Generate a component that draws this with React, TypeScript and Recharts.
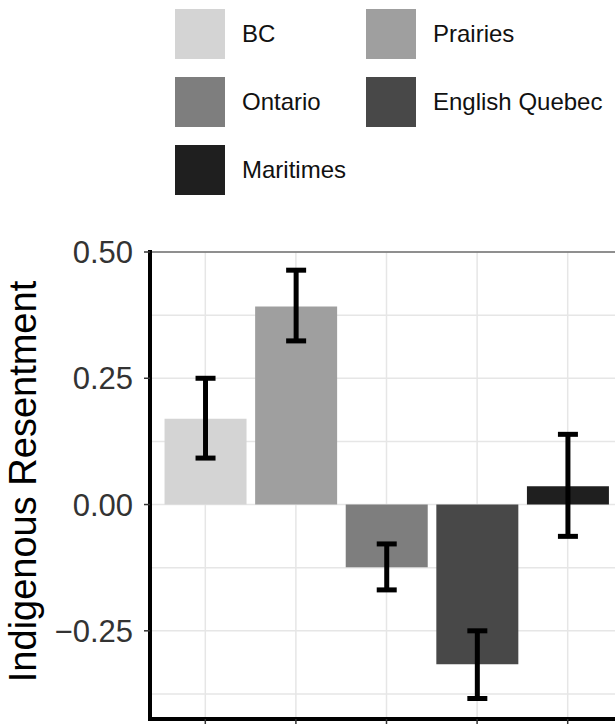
import React from 'react'
import {
  BarChart,
  Bar,
  Cell,
  XAxis,
  YAxis,
  CartesianGrid,
  ErrorBar,
  ReferenceLine,
} from 'recharts'

// region means with 95% interval ends
const regions = ['BC', 'Prairies', 'Ontario', 'English Quebec', 'Maritimes']
const means = [0.17, 0.392, -0.124, -0.316, 0.036]
const lower = [0.092, 0.324, -0.169, -0.384, -0.063]
const upper = [0.25, 0.464, -0.078, -0.25, 0.139]
const fills = ['#d4d4d4', '#9f9f9f', '#7e7e7e', '#484848', '#1f1f1f']

const yTicks = [-0.25, 0, 0.25, 0.5]
const gridValues = [-0.375, -0.25, -0.125, 0, 0.125, 0.25, 0.375, 0.5]

const FONT = '"Liberation Sans", Arial, Helvetica, sans-serif'
const PLOT_TOP = 252
const PLOT_BOTTOM = 719

const data = regions.map((region, i) => ({
  region,
  value: means[i],
  err: [means[i] - lower[i], upper[i] - means[i]],
}))

const formatTick = (v: number) => (v < 0 ? '\u2212' + Math.abs(v).toFixed(2) : v.toFixed(2))

function YTitle() {
  const cx = 36
  const cy = (PLOT_TOP + PLOT_BOTTOM) / 2 - 4
  return (
    <text
      x={cx}
      y={cy}
      transform={`rotate(-90, ${cx}, ${cy})`}
      textAnchor="middle"
      fontSize={38}
      fontFamily={FONT}
      fill="#000"
    >
      Indigenous Resentment
    </text>
  )
}

function RegionLegend() {
  return (
    <div
      style={{
        position: 'absolute',
        left: 175,
        top: 9,
        display: 'grid',
        gridTemplateColumns: '191px 191px',
        rowGap: 18,
        fontFamily: FONT,
        fontSize: 24,
        color: '#111',
      }}
    >
      {regions.map((r, i) => (
        <div key={r} style={{ display: 'flex', alignItems: 'center', height: 50 }}>
          <div style={{ width: 50, height: 50, background: fills[i], flex: 'none' }} />
          <span style={{ marginLeft: 17, whiteSpace: 'nowrap' }}>{r}</span>
        </div>
      ))}
    </div>
  )
}

export default function App() {
  return (
    <div
      style={{
        position: 'absolute',
        left: 0,
        top: 0,
        width: 615,
        height: 724,
        overflow: 'hidden',
        background: '#fff',
      }}
    >
      <RegionLegend />
      <BarChart
        width={623}
        height={760}
        data={data}
        margin={{ top: PLOT_TOP, right: 0, bottom: 0, left: 0 }}
        barCategoryGap="5%"
      >
        <CartesianGrid
          stroke="#e6e6e6"
          strokeWidth={1.5}
          horizontalValues={gridValues}
          verticalValues={regions}
        />
        <XAxis
          dataKey="region"
          height={760 - PLOT_BOTTOM}
          padding={{ left: 10, right: 10 }}
          tick={<g />}
          tickSize={6}
          tickLine={{ stroke: '#333', strokeWidth: 1.5 }}
          axisLine={{ stroke: '#000', strokeWidth: 4, strokeLinecap: 'square' }}
        />
        <YAxis
          width={150}
          type="number"
          domain={[-0.4246, 0.5]}
          allowDataOverflow
          ticks={yTicks}
          tickFormatter={formatTick}
          tickSize={6}
          tickMargin={11}
          tick={{ fontSize: 31, fontFamily: FONT, fill: '#333' }}
          tickLine={{ stroke: '#333', strokeWidth: 1.5 }}
          axisLine={{ stroke: '#000', strokeWidth: 4, strokeLinecap: 'square' }}
          label={<YTitle />}
        />
        <ReferenceLine y={0.5} stroke="#333" strokeWidth={1.2} />
        <Bar dataKey="value" isAnimationActive={false}>
          {data.map((d, i) => (
            <Cell key={d.region} fill={fills[i]} />
          ))}
          <ErrorBar dataKey="err" direction="y" width={10} strokeWidth={5} stroke="#000" />
        </Bar>
      </BarChart>
    </div>
  )
}
